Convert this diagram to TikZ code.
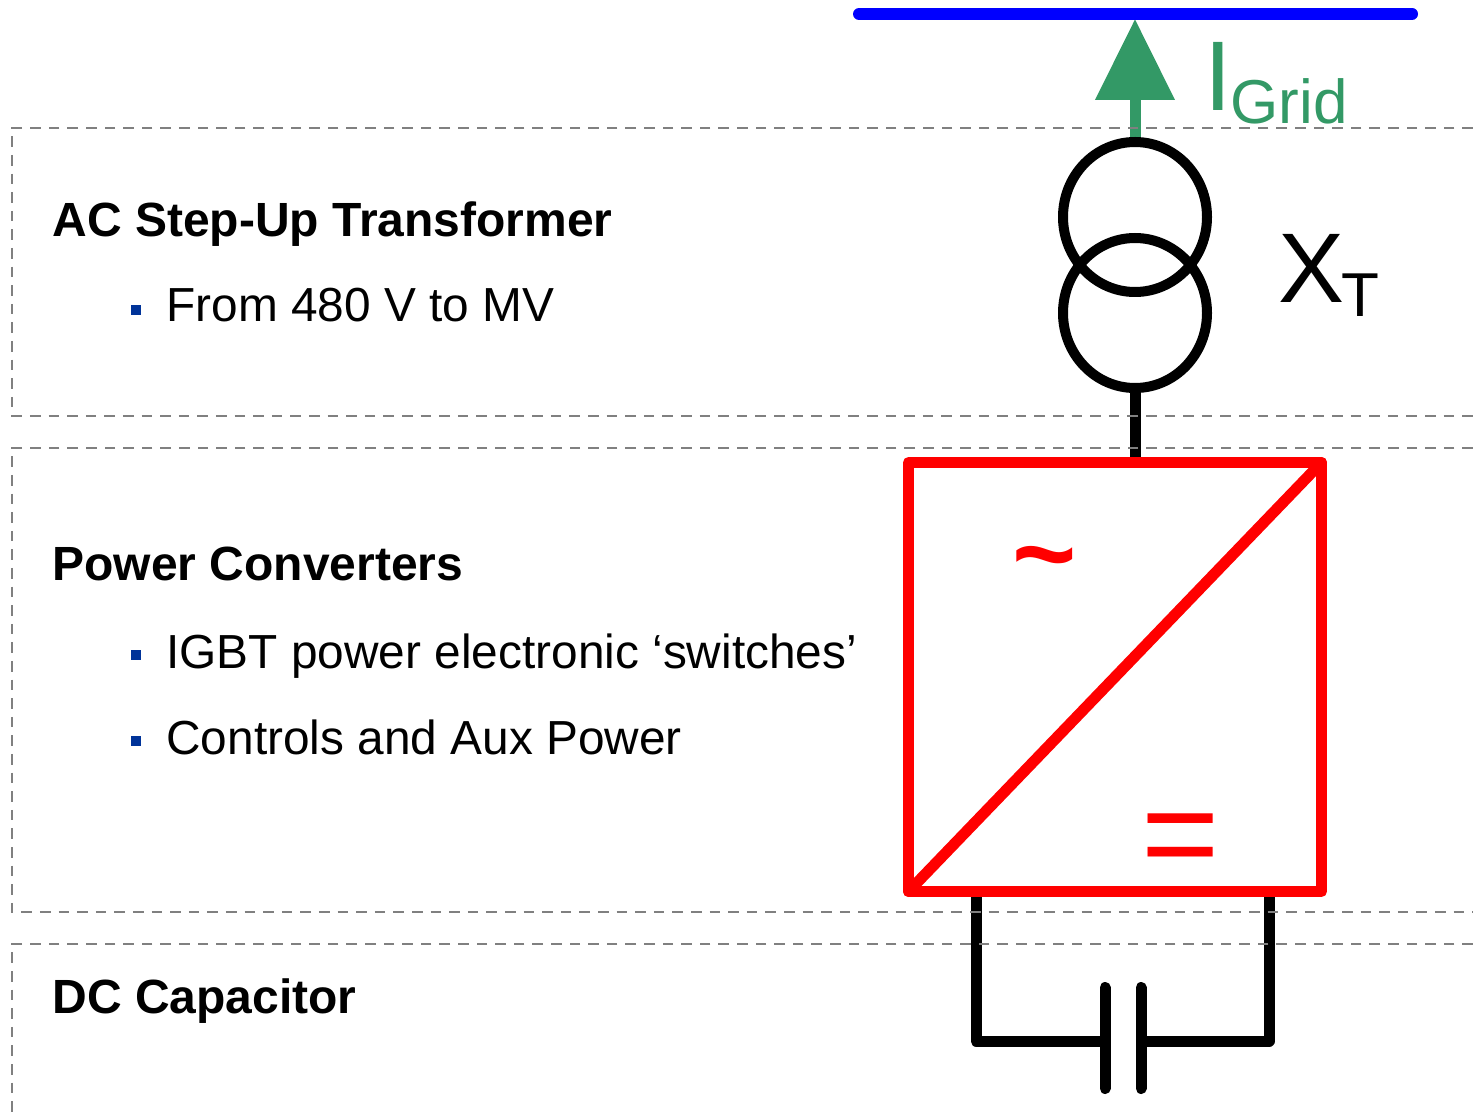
\documentclass[tikz,border=0pt]{standalone}
\usepackage{fontspec}
\setmainfont{Liberation Sans}
\usepackage{xcolor}
\usetikzlibrary{arrows.meta, backgrounds, shapes.geometric}
\definecolor{gridgreen}{HTML}{339966}
\definecolor{bulletblue}{HTML}{003399}
\definecolor{framegray}{HTML}{808080}
\tikzset{
  framebox/.style={framegray, line width=1pt, dash pattern=on 5.3pt off 4pt},
  heading/.style={anchor=base west, inner sep=0pt, font=\fontsize{24}{28}\selectfont\bfseries},
  itemtext/.style={anchor=base west, inner sep=0pt, font=\fontsize{23.9}{28}\selectfont},
  bulletsq/.style={fill=bulletblue, minimum size=5pt, inner sep=0pt, outer sep=0pt},
  bigsym/.style={anchor=base west, inner sep=0pt, font=\fontsize{49.5}{50}\selectfont},
  subsym/.style={anchor=base west, inner sep=0pt, font=\fontsize{31}{32}\selectfont},
  wire/.style={line width=5.5pt, line join=round},
  coil/.style={draw, ellipse, line width=5pt, minimum width=72pt, minimum height=75pt, inner sep=0pt, outer sep=0pt}
}
\begin{document}
\begin{tikzpicture}[x=0.5pt, y=-0.5pt]
  \useasboundingbox (0,0) rectangle (1473,1117);
  % bus and transformer
  \coordinate (buswest) at (859,14);
  \coordinate (buseast) at (1412,14);
  \coordinate (bustap) at (1135,19);
  \draw[blue, line width=6pt, line cap=round] (buswest) -- (buseast);
  \node[coil] (coilhi) at (1135,217) {};
  \node[coil] (coillo) at (1135,313) {};
  % converter box
  \node[draw=red, line width=5.5pt, line join=round, rectangle, minimum width=206.5pt, minimum height=214.5pt,
        inner sep=0pt, outer sep=0pt] (conv) at (1115,677) {};
  \draw[red, line width=5.5pt, line cap=round] (conv.south west) -- (conv.north east);
  \node[text=red, inner sep=0pt, font=\bfseries\fontsize{55}{55}\selectfont] (acsym) at (1045,569) {\textasciitilde};
  \node[text=red, inner sep=0pt, font=\fontsize{67}{67}\selectfont] (dcsym) at (1181,847) {=};
  % capacitor
  \coordinate (dcleft) at (976,891);
  \coordinate (dcright) at (1269,891);
  \coordinate (capleft) at (1105,1041);
  \coordinate (capright) at (1141,1041);
  \draw[wire, line cap=round] (1105,987.5) -- (1105,1088.5);
  \draw[wire, line cap=round] (1141,987.5) -- (1141,1088.5);
  \begin{scope}[on background layer]
    \draw[gridgreen, line width=5.5pt, -{Triangle[length=40.5pt, width=38.5pt]}] (coilhi.north) -- (bustap);
    \draw[wire] (coillo.south) -- (coillo.south |- conv.north);
    \draw[wire] (dcleft) |- (capleft);
    \draw[wire] (dcright) |- (capright);
  \end{scope}
  % labels next to the symbols
  \node[bigsym, text=gridgreen] (igrid) at (1204,111) {I};
  \node[subsym, text=gridgreen] (igridsub) at (1230,124) {Grid};
  \node[bigsym] (xt) at (1278,303) {X};
  \node[subsym] (xtsub) at (1341,317) {T};
  % dashed frames, open on the right
  \foreach \ytop/\ybot in {128/416, 448/912}{
    \draw[framebox] (1473,\ytop) -- (12,\ytop) -- (12,\ybot) -- (1473,\ybot);
  }
  \draw[framebox] (1473,944) -- (12,944) -- (12,1117);
  % frame texts
  \node[heading] (hxfmr) at (52,237) {AC Step-Up Transformer};
  \node[heading] (hconv) at (52,581) {Power Converters};
  \node[heading] (hcap) at (52,1013) {DC Capacitor};
  \foreach \name/\y/\yb/\lab in {from/322/310/From 480 V to MV, igbt/668/655/IGBT power electronic ‘switches’, ctrl/754/741/Controls and Aux Power}{
    \node[bulletsq] (b\name) at (136,\yb) {};
    \node[itemtext] (t\name) at (166,\y) {\lab};
  }
\end{tikzpicture}
\end{document}
